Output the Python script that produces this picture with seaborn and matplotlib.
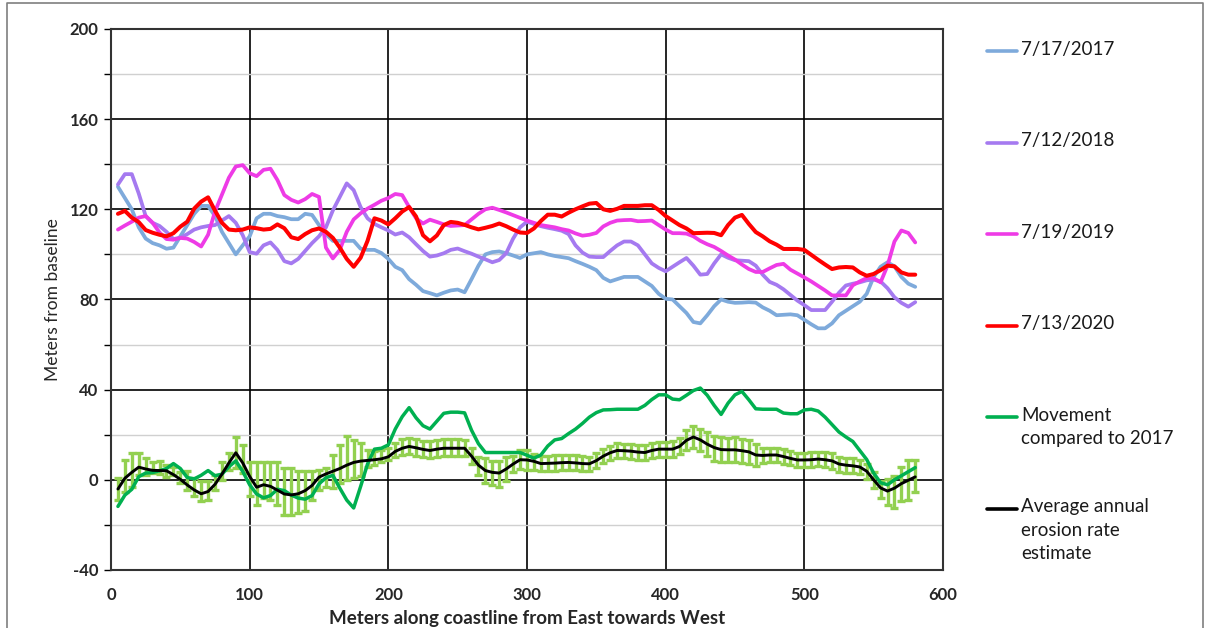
import numpy as np
import pandas as pd
import matplotlib
matplotlib.use("Agg")
import matplotlib.pyplot as plt
from matplotlib.lines import Line2D
from matplotlib.ticker import MultipleLocator
import seaborn as sns

# Distance along the coastline (m), one transect every 5 m
distance = np.arange(5, 585, 5)

shore_2017 = [130, 125, 120, 112, 107, 105, 104, 102.5, 103, 108, 113, 118, 121.5, 121.5, 117, 110, 105, 100, 104, 108,
              116, 118, 118, 117, 116.5, 115.6, 115.6, 118, 117.5, 113, 109, 106, 106, 106, 106, 102.5, 102, 102, 100.6, 98,
              94.5, 93, 89, 86.5, 83.7, 82.8, 81.8, 83, 84, 84.4, 83.2, 89, 95, 100, 101, 101.3, 100.5, 99.5, 98.4, 100,
              100.5, 101, 100, 99.3, 98.8, 98.3, 97, 95.8, 94.5, 93, 89.6, 88, 89, 90, 90, 90, 88, 86, 82.5, 80.3,
              80, 77, 74, 70, 69.4, 73, 77, 80, 79, 78.5, 78.6, 78.8, 78.6, 76.5, 75, 73, 73.2, 73.4, 73, 71,
              69, 67.2, 67.2, 69.4, 73, 75, 77, 79, 82.5, 90, 94.5, 96.5, 94.7, 90, 87, 85.6]

shore_2018 = [131, 135.6, 135.6, 127, 117, 114, 112.6, 110, 106.8, 107.4, 109, 111, 112, 112.6, 113, 115, 117, 114, 108.5, 101,
              100.3, 104, 105.3, 102, 97, 96, 98, 101.5, 105, 108, 112, 119.5, 125.5, 131.5, 128.5, 121, 116, 113.5, 112, 110.6,
              108.8, 109.7, 107.6, 104.5, 101.5, 99, 99.5, 100.5, 102, 102.6, 101.4, 100.3, 99, 97.8, 96.5, 97.5, 100.5, 107, 112, 114.5,
              113.5, 112.5, 111.8, 111.2, 110.5, 109, 104, 100.8, 99, 98.8, 98.8, 101.5, 104, 105.7, 105.7, 104, 100, 96, 94, 92.5,
              94.5, 96.5, 98.4, 95, 91, 91.3, 96, 100, 98.5, 97.4, 97.2, 97, 95, 91, 87.8, 86.5, 84.5, 82, 79.5, 77.5,
              75.3, 75.3, 75.3, 79, 83, 86.2, 87, 87.6, 88.5, 88.8, 88, 85, 81, 78.5, 76.8, 78.8]

shore_2019 = [111, 112.8, 114.5, 116.3, 117, 114, 109.7, 106.8, 106.5, 107.3, 107, 105.5, 103.5, 108.7, 119, 126.5, 134, 139, 139.6, 136,
              134.7, 137.5, 138, 133, 126.3, 124.2, 123, 124.5, 126.8, 125.5, 103, 98.2, 102, 110, 115.5, 118.2, 120.3, 122, 123.8, 125,
              126.8, 126.3, 121, 116, 113.7, 115.4, 114.4, 113.3, 112.6, 112.8, 113, 115.5, 118, 120, 120.7, 119.7, 118.6, 117.4, 116.2, 115,
              114, 113, 112.5, 112, 111.2, 110.6, 109.3, 108.3, 108.7, 109.5, 112.4, 114, 115, 115.2, 115.3, 114.7, 114.8, 115, 113, 111,
              109.4, 109.4, 109.2, 108, 106, 104.5, 103.3, 101.5, 99.5, 97.7, 95.5, 93.5, 92.2, 92.2, 93.8, 95.3, 95.8, 93.2, 91.5, 89.8,
              88, 86, 84, 81.8, 81.8, 81.8, 86.3, 88, 89.5, 89.4, 87.6, 95, 105.7, 110.6, 109.5, 105.3]

shore_2020 = [118, 119.3, 116.3, 114.3, 110.8, 109.6, 108.7, 108, 109.4, 112.3, 114.5, 120.3, 123.4, 125.3, 119.4, 114, 111, 110.7, 111, 112,
              111.6, 111, 111.3, 113.3, 111.6, 107.6, 106.8, 109, 110.7, 111.5, 110, 107.3, 103, 98, 94.5, 98.5, 106, 116, 115, 113.3,
              116, 119, 121, 116.8, 108.5, 105.8, 108.4, 113, 114.4, 114, 113.1, 112, 111.1, 111.8, 112.6, 113.7, 112.5, 111, 109.7, 109.5,
              111.5, 114.8, 117.6, 117.6, 116.8, 118.5, 120, 121.3, 122.5, 122.8, 120, 119.3, 120.2, 121.5, 121.5, 121.5, 121.8, 121.8, 119.7, 117,
              115, 113, 111.5, 109.4, 109.5, 109.6, 109.5, 108.5, 113, 116.3, 117.5, 113.5, 109.9, 108, 105.8, 104.3, 102.4, 102.4, 102.4, 102,
              99.8, 97.6, 95.5, 93.5, 94.2, 94.4, 94.2, 92, 90.5, 91.3, 93, 95, 94.7, 92, 91, 91]

movement = [-11.8, -6.8, -4.2, 1.4, 3, 3.2, 4, 5, 7.2, 5, 1, 0.4, 2, 4.1, 1.8, 2.5, 5.8, 8.4, 3.7, -2.2,
            -6.3, -8, -7, -4.2, -4.8, -6.8, -8.1, -8.6, -7, -1.8, 0.9, 2, -3.7, -9, -12.5, -3, 7, 13.6, 14, 15.5,
            22.5, 28, 32, 27.5, 24, 22.5, 26, 29.5, 30, 30, 29.7, 22, 16, 12.1, 12.1, 12.1, 12.1, 12.1, 12.1, 10.9,
            9.6, 11, 15, 17.7, 18.3, 20.5, 22.5, 25, 27.8, 29.8, 31, 31.1, 31.3, 31.3, 31.3, 31.3, 33, 35.6, 37.7, 37.7,
            35.8, 35.5, 37.5, 39.6, 40.7, 37.5, 33, 29, 34, 37.7, 39.2, 35.5, 31.5, 31.3, 31.3, 31.3, 29.6, 29.3, 29.3, 31,
            31.3, 30.5, 27.8, 24.5, 21.2, 19, 17, 13, 9, 3, -1.3, -2.2, 0, 1.8, 3.6, 5.4]

erosion_rate = [-4.1, 0.7, 3.3, 5.6, 4.8, 4.2, 4.1, 4, 2.3, 0.2, -2.3, -4.5, -6.2, -5.2, -2, 2.5, 7.5, 12, 7.5, 1.5,
                -3.3, -2.2, -2.9, -4.6, -6.3, -6.7, -6.2, -4.8, -2.5, 1.2, 2.6, 3.8, 5, 6.5, 7.7, 8.3, 8.6, 8.9, 9.3, 10.2,
                12.6, 14, 14.8, 14.2, 13.5, 13, 13.6, 14, 14, 14, 14, 10.5, 6.5, 4.1, 3.3, 3, 4.8, 7, 8.9, 8.8,
                8.2, 7.2, 7.3, 7.4, 7.6, 7.7, 7.5, 7.2, 7.1, 8.5, 10.5, 12, 13, 12.9, 12.7, 12.3, 12.1, 13, 13.6, 13.6,
                13.6, 14.8, 17.5, 19, 17.7, 15.8, 14.3, 13.4, 13.3, 13.3, 12.9, 12.4, 11, 10.8, 11, 11, 10.3, 9.5, 8.8, 8.8,
                8.9, 9.2, 8.9, 8.4, 7, 6.5, 6.2, 5.7, 3.8, 0, -3.6, -5, -3.7, -1.7, -0.2, 1.3]

# Lower and upper ends of the uncertainty range of the annual rate
rate_low = [-8.9, -5.2, -3, 2, 2.2, 3, 2.5, 1.2, 2.2, -1.5, -4.4, -7.1, -9.6, -8.9, -4.4, 0, 4.4, 5.2, 3, -7.4,
            -11, -8.1, -8.9, -11, -15.5, -15.5, -14.8, -14, -8.9, -4.4, -3, -3.7, -1.5, 0, 0.7, 1.5, 5.9, 6.7, 8.1, 8.9,
            10, 11, 11.5, 10.5, 10, 9.5, 10, 10.5, 10.5, 10.5, 10.5, 7, 2, -1.5, -2.5, -3, -0.5, 3.5, 5, 4.5,
            4.5, 3.8, 4, 4, 4.2, 4.3, 4.2, 3.8, 3.8, 5.3, 7.4, 9, 9.8, 9.6, 9.3, 9, 8.8, 9.8, 10.3, 10.3,
            10.2, 11.3, 13, 14.3, 12.8, 10.5, 8.5, 8, 7.8, 7.8, 7.4, 6.9, 6, 7.5, 7.8, 7.8, 7, 6.4, 5.5, 5.5,
            5.6, 6, 5.6, 5, 3.5, 3.2, 2.8, 2.5, 0.5, -3.5, -8, -11.2, -12.4, -9.6, -8.9, -5.2]

rate_high = [0.7, 8.6, 12, 12, 9.6, 8.1, 8.2, 6.7, 5.9, 3.5, 3.7, 0.7, -0.7, -0.7, 2.2, 8.1, 11.8, 19.2, 15.5, 8.1,
             8.1, 8.1, 8.1, 8.1, 5.2, 5.2, 3.7, 3.7, 3.7, 4.4, 5.2, 11, 15.5, 19.5, 17.7, 16.3, 13.3, 12.6, 13.3, 14,
             16.5, 18, 18.5, 18, 17.3, 17, 17.5, 18, 18, 18, 17.8, 14, 10, 9.5, 8.5, 8.5, 10, 10.5, 13, 13,
             11.5, 10.5, 10.5, 10.8, 11, 11, 10.8, 10.5, 10.3, 11.8, 13.5, 15, 16.2, 16, 15.8, 15.5, 15.3, 16.3, 16.8, 16.8,
             17, 18.5, 22, 24, 22.6, 21, 19.5, 18.8, 18.6, 18.8, 18.2, 17.6, 16, 14, 14.3, 14.3, 13.6, 12.6, 12, 12,
             12.2, 12.4, 12.2, 11.7, 10.3, 9.8, 9.5, 9, 7, 3.5, -0.7, 0.3, 1.9, 5.9, 8.9, 8.6]

labels = ["7/17/2017", "7/12/2018", "7/19/2019", "7/13/2020",
          "Movement\ncompared to 2017", "Average annual\nerosion rate\nestimate"]
colors = ["#7EAADB", "#A57AF0", "#EE3BE6", "#FF0000", "#00B050", "#000000"]
widths = [2.7, 2.7, 2.7, 2.9, 2.5, 2.1]
errbar_color = "#92D050"

df = pd.DataFrame({"distance": distance,
                   labels[0]: shore_2017, labels[1]: shore_2018,
                   labels[2]: shore_2019, labels[3]: shore_2020,
                   labels[4]: movement, labels[5]: erosion_rate,
                   "low": rate_low, "high": rate_high})

sns.set_style("white")
plt.rcParams["font.family"] = ["Lato", "DejaVu Sans"]
plt.rcParams["axes.unicode_minus"] = False

fig = plt.figure(figsize=(12.08, 6.28), dpi=100)
ax = fig.add_axes([0.0919, 0.0924, 0.6887, 0.8615])

# Shoreline positions for each survey date
for lab, col, lw in zip(labels[:4], colors[:4], widths[:4]):
    sns.lineplot(data=df, x="distance", y=lab, ax=ax, color=col, lw=lw, zorder=3)

# Uncertainty range of the annual erosion rate
mid = (df["low"] + df["high"]) / 2
half = (df["high"] - df["low"]) / 2
ax.errorbar(df["distance"], mid, yerr=half, fmt="none", ecolor=errbar_color,
            elinewidth=2.4, capsize=3.2, capthick=2.4, zorder=3)

sns.lineplot(data=df, x="distance", y=labels[4], ax=ax, color=colors[4], lw=widths[4], zorder=4)
sns.lineplot(data=df, x="distance", y=labels[5], ax=ax, color=colors[5], lw=widths[5], zorder=5)

ax.set_xlim(0, 600)
ax.set_ylim(-40, 200)
ax.xaxis.set_major_locator(MultipleLocator(100))
ax.yaxis.set_major_locator(MultipleLocator(40))
ax.yaxis.set_minor_locator(MultipleLocator(20))
ax.grid(which="major", axis="both", color="black", lw=1.2, zorder=1)
ax.grid(which="minor", axis="y", color="#D0D0D0", lw=1.0, zorder=0)
ax.set_axisbelow(True)
for s in ax.spines.values():
    s.set_visible(True)
    s.set_color("#333333")
    s.set_linewidth(1.5)

ax.tick_params(axis="y", which="both", direction="out", length=5, width=1, color="black",
               left=True, labelsize=12, pad=4)
ax.tick_params(axis="x", which="both", length=0, labelsize=12, pad=12)
for t in ax.get_xticklabels() + ax.get_yticklabels():
    t.set_fontweight("bold")

ax.set_xlabel("Meters along coastline from East towards West", fontsize=13.5,
              fontweight="bold", labelpad=5)
ax.set_ylabel("Meters from baseline", fontsize=12.5, labelpad=6)

# Legend column to the right of the plot area
y0, step = 0.918, 0.1457
for i, (lab, col) in enumerate(zip(labels, colors)):
    y = y0 - i * step
    fig.add_artist(Line2D([0.817, 0.842], [y, y], color=col, lw=2.6, transform=fig.transFigure))
    fig.text(0.845, y + 0.017, lab, fontsize=13.5, va="top", ha="left", color="#1a1a1a",
             linespacing=1.45, transform=fig.transFigure)

# Chart-area frame: left, top and right edges
fig.add_artist(Line2D([0.006, 0.006, 0.996, 0.996], [0.0, 0.996, 0.996, 0.0],
                      color="#7f7f7f", lw=1.2, transform=fig.transFigure))

fig.savefig("out.png", dpi=100)
